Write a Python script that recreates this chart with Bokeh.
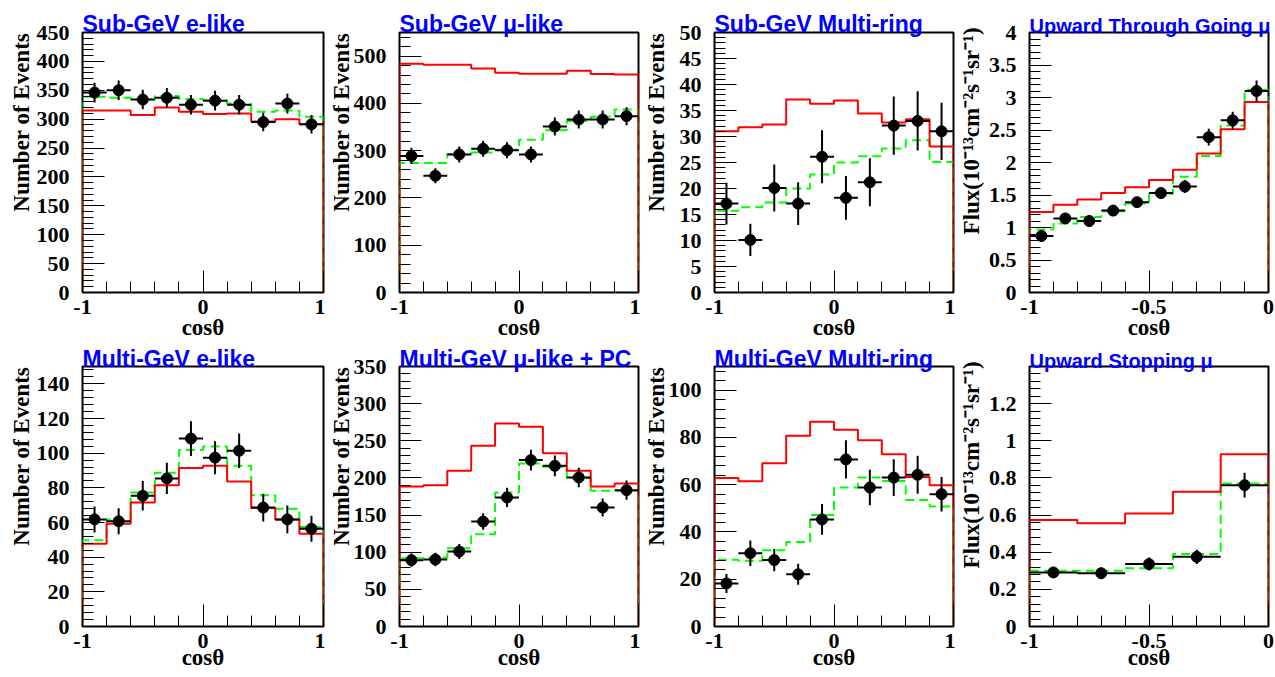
from bokeh.plotting import figure
from bokeh.models import Range1d, SingleIntervalTicker, CustomJSTickFormatter
from bokeh.layouts import gridplot
from bokeh.embed import file_html
from bokeh.resources import INLINE

# ---------------- data ----------------
edges_full = [-1.0, -0.8, -0.6, -0.4, -0.2, 0.0, 0.2, 0.4, 0.6, 0.8, 1.0]
edges_thru = [-1.0, -0.9, -0.8, -0.7, -0.6, -0.5, -0.4, -0.3, -0.2, -0.1, 0.0]
edges_stop = [-1.0, -0.8, -0.6, -0.4, -0.2, 0.0]

subE_data = [346, 350, 334, 337, 325, 332, 325, 295, 327, 291]
subE_err = [17, 17, 17, 17, 17, 17, 17, 16, 17, 16]
subE_null = [315, 315, 307, 320, 313, 309, 310, 296, 300, 291]
subE_osc = [339, 337, 334, 340, 335, 333, 327, 313, 315, 304]

subMu_data = [289, 247, 292, 304, 301, 292, 351, 366, 366, 373]
subMu_err = [17, 16, 17, 17, 17, 17, 19, 19, 19, 19]
subMu_null = [484, 482, 482, 474, 465, 463, 463, 469, 462, 461]
subMu_osc = [274, 274, 293, 296, 302, 323, 343, 363, 372, 387]

subMR_data = [17.1, 10.1, 20.1, 17.1, 26.1, 18.2, 21.2, 32.1, 33.0, 31.0]
subMR_err = [4.0, 3.1, 4.5, 4.1, 5.1, 4.2, 4.6, 5.6, 5.7, 5.5]
subMR_null = [31.0, 31.8, 32.3, 37.1, 36.3, 36.9, 34.4, 32.7, 33.3, 28.1]
subMR_osc = [15.7, 16.4, 17.3, 20.0, 22.7, 25.0, 26.2, 27.7, 29.3, 25.1]

thru_data = [0.87, 1.14, 1.10, 1.26, 1.39, 1.53, 1.63, 2.39, 2.65, 3.10]
thru_err = [0.09, 0.08, 0.08, 0.08, 0.08, 0.08, 0.10, 0.13, 0.13, 0.16]
thru_null = [1.24, 1.35, 1.43, 1.53, 1.62, 1.73, 1.89, 2.14, 2.51, 2.93]
thru_osc = [0.97, 1.06, 1.16, 1.25, 1.37, 1.52, 1.78, 2.10, 2.57, 3.12]

mulE_data = [61.8, 60.7, 75.4, 85.4, 108.4, 97.4, 101.4, 68.6, 61.8, 56.4]
mulE_err = [7.5, 7.5, 8.5, 9.0, 10.0, 9.5, 10.0, 8.0, 8.0, 7.5]
mulE_null = [47.7, 59.3, 71.5, 81.5, 91.4, 92.8, 83.7, 68.4, 61.8, 53.5]
mulE_osc = [49.7, 61.8, 77.3, 88.7, 101.8, 103.8, 92.8, 75.7, 68.0, 57.4]

mulMu_data = [89.3, 90.2, 101.0, 141.3, 173.7, 224.0, 216.3, 200.6, 160.2, 183.5]
mulMu_err = [9, 9, 10, 11, 13, 14, 14, 13, 12, 13]
mulMu_null = [188.5, 190.3, 209.5, 243.2, 273.3, 268.8, 233.3, 209.5, 188.5, 192.5]
mulMu_osc = [92.0, 92.9, 105.4, 124.3, 180.4, 219.4, 215.0, 199.7, 182.6, 182.6]

mulMR_data = [18.2, 31.0, 28.1, 22.1, 45.3, 70.7, 58.8, 63.0, 64.2, 56.0]
mulMR_err = [4.0, 5.4, 4.7, 4.4, 6.5, 8.1, 7.5, 7.8, 8.0, 7.3]
mulMR_null = [62.8, 61.4, 69.1, 80.7, 86.6, 83.2, 78.8, 72.9, 63.3, 59.8]
mulMR_osc = [28.2, 27.8, 32.3, 35.8, 47.2, 58.8, 63.0, 61.6, 53.5, 50.8]

stop_data = [0.291, 0.287, 0.336, 0.375, 0.761]
stop_err = [0.030, 0.030, 0.035, 0.038, 0.067]
stop_null = [0.573, 0.556, 0.608, 0.725, 0.928]
stop_osc = [0.300, 0.300, 0.314, 0.390, 0.770]

titles = ["Sub-GeV e-like", "Sub-GeV \u03bc-like", "Sub-GeV Multi-ring", "Upward Through Going \u03bc",
          "Multi-GeV e-like", "Multi-GeV \u03bc-like + PC", "Multi-GeV Multi-ring", "Upward Stopping \u03bc"]
y_max = [450, 550, 50, 4, 150, 350, 110, 1.4]
y_major = [50, 100, 5, 0.5, 20, 50, 20, 0.2]
x_title = "cos\u03b8"
y_title_events = "Number of Events"
y_title_flux = "Flux(10\u207b\u00b9\u00b3cm\u207b\u00b2s\u207b\u00b9sr\u207b\u00b9)"

panels = [
    (edges_full, subE_data, subE_err, subE_null, subE_osc),
    (edges_full, subMu_data, subMu_err, subMu_null, subMu_osc),
    (edges_full, subMR_data, subMR_err, subMR_null, subMR_osc),
    (edges_thru, thru_data, thru_err, thru_null, thru_osc),
    (edges_full, mulE_data, mulE_err, mulE_null, mulE_osc),
    (edges_full, mulMu_data, mulMu_err, mulMu_null, mulMu_osc),
    (edges_full, mulMR_data, mulMR_err, mulMR_null, mulMR_osc),
    (edges_stop, stop_data, stop_err, stop_null, stop_osc),
]

# ---------------- layout / style ----------------
SERIF = "Liberation Serif"
SANS = "Liberation Sans"
NBSP = "\u00a0"
col_w = [325, 315, 315, 320]
left_b = [82, 72, 72, 72]
right_b = [2, 2, 2, 7]
row_h = [347, 330]
top_b = [32, 19]
bot_b = [55, 51]
xlab_standoff = [-2, -6]
title_standoff = [-8, -10]
title_size = ["23px", "23px", "23px", "20px", "23px", "23px", "23px", "20px"]
ylab_standoff = [0, -3, 8, 2, 0, -3, -3, 2]
ylab_pad = [14, 14, 14, 11, 14, 14, 14, 11]

fmt = CustomJSTickFormatter(code="return String(Math.round(tick*1000)/1000);")


def step_xy(edges, vals):
    xs = [edges[0]] + list(edges[:-1]) + [edges[-1], edges[-1]]
    ys = [0] + list(vals) + [vals[-1], 0]
    return xs, ys


def safe_set(obj, name, *vals):
    if name not in obj.properties():
        return
    for v in vals:
        try:
            setattr(obj, name, v)
            return
        except Exception:
            pass


figs = []
for i, (edges, data, err, null, osc) in enumerate(panels):
    r, c = divmod(i, 4)
    xlo, xhi = edges[0], edges[-1]
    ymax = y_max[i]
    p = figure(width=col_w[c], height=row_h[r], x_range=Range1d(xlo, xhi), y_range=Range1d(0, ymax),
               output_backend="svg", toolbar_location=None, title=titles[i],
               min_border_left=left_b[c], min_border_right=right_b[c],
               min_border_top=top_b[r], min_border_bottom=bot_b[r])
    p.background_fill_color = "white"
    p.border_fill_color = "white"
    p.outline_line_color = "black"
    p.outline_line_width = 2
    p.xgrid.visible = False
    p.ygrid.visible = False

    t = p.title
    t.align = "left"
    t.text_font = SANS
    t.text_font_style = "bold"
    t.text_font_size = title_size[i]
    t.text_color = "#0000ff"
    safe_set(t, "standoff", title_standoff[r], 0)

    xa = p.xaxis[0]
    xa.ticker = SingleIntervalTicker(interval=(1.0 if xhi - xlo > 1.5 else 0.5), num_minor_ticks=5)
    ya = p.yaxis[0]
    ya.ticker = SingleIntervalTicker(interval=y_major[i], num_minor_ticks=5)
    for ax in (xa, ya):
        ax.formatter = fmt
        ax.axis_line_color = None
        ax.major_tick_in = 22
        ax.major_tick_out = 0
        ax.minor_tick_in = 11
        ax.minor_tick_out = 0
        ax.major_tick_line_color = "black"
        ax.minor_tick_line_color = "black"
        ax.major_tick_line_width = 1
        ax.minor_tick_line_width = 1
        ax.major_label_text_font = SERIF
        ax.major_label_text_font_style = "bold"
        ax.major_label_text_font_size = "22px"
        ax.major_label_text_color = "black"
        ax.axis_label_text_font = SERIF
        ax.axis_label_text_font_style = "bold"
        ax.axis_label_text_color = "black"
    xa.major_label_standoff = 7
    ya.major_label_standoff = 13
    xa.axis_label = x_title
    xa.axis_label_text_font_size = "23px"
    safe_set(xa, "axis_label_standoff", xlab_standoff[r], 0)
    base = y_title_events if c < 3 else y_title_flux
    ya.axis_label = NBSP * ylab_pad[i] + base
    ya.axis_label_text_font_size = "23px"
    safe_set(ya, "axis_label_standoff", ylab_standoff[i], 0)

    centers = [(edges[k] + edges[k + 1]) / 2 for k in range(len(data))]
    lo = [d - e for d, e in zip(data, err)]
    hi = [d + e for d, e in zip(data, err)]

    gx, gy = step_xy(edges, osc)
    p.step(gx, gy, mode="after", line_color="#00ff00", line_width=2, line_dash="9 5")
    rx, ry = step_xy(edges, null)
    p.step(rx, ry, mode="after", line_color="#ff0000", line_width=2)
    p.segment(x0=edges[:-1], y0=data, x1=edges[1:], y1=data, line_color="black", line_width=2)
    p.segment(x0=centers, y0=lo, x1=centers, y1=hi, line_color="black", line_width=2)
    p.scatter(centers, data, size=11, marker="circle", fill_color="black", line_color="black")
    figs.append(p)

grid = gridplot([figs[:4], figs[4:]], toolbar_location=None)
open("out.html", "w").write(file_html(grid, INLINE))
